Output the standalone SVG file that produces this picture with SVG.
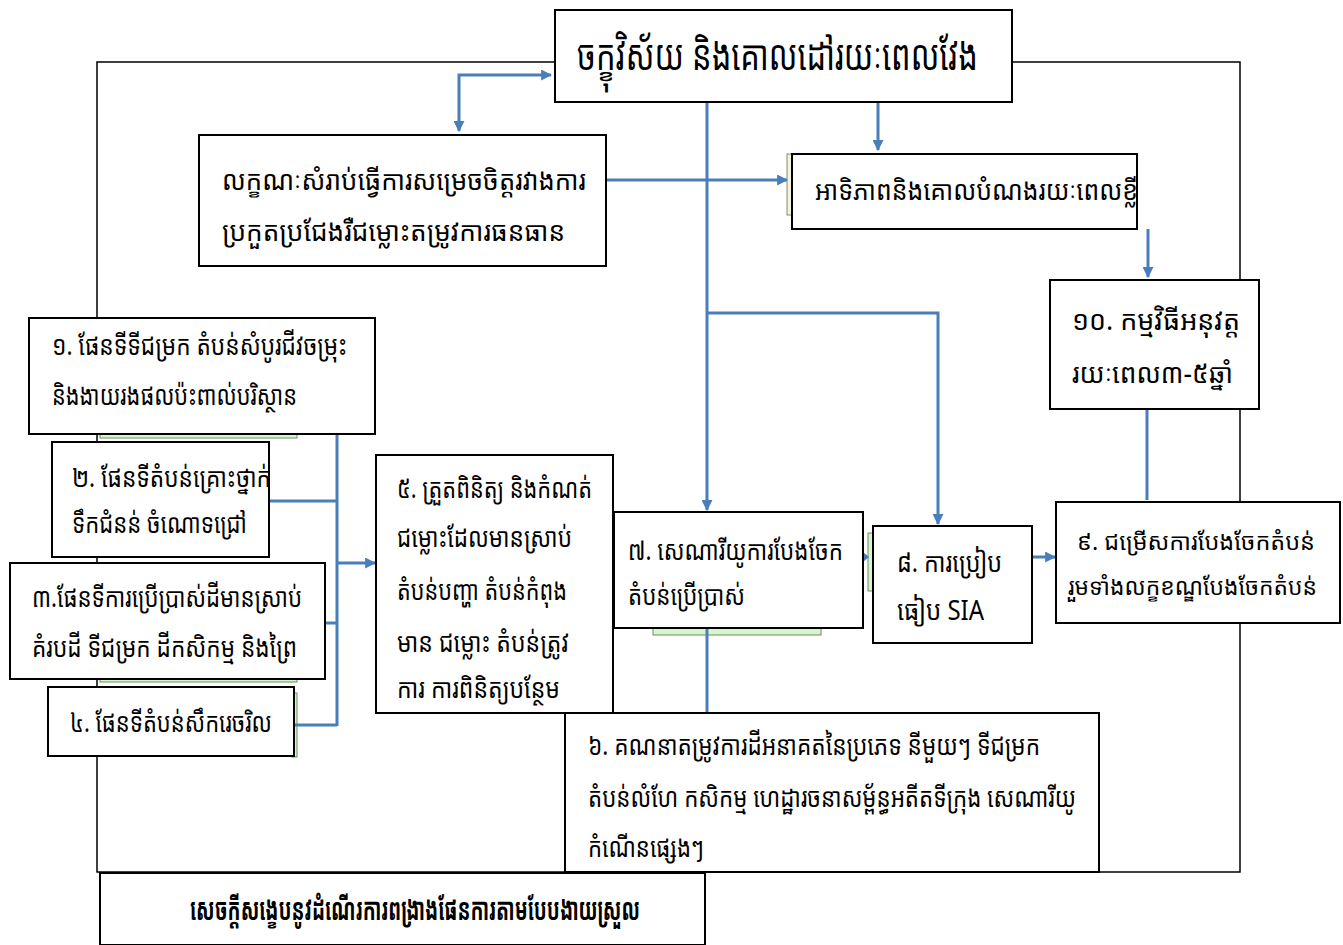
<svg xmlns="http://www.w3.org/2000/svg" width="1343" height="945" viewBox="0 0 1343 945">
<defs>
<style>
.box{fill:#fff;stroke:#000;stroke-width:2}
.deco{fill:#d8f5d0;stroke:#6b8f5e;stroke-width:1}
.frame{fill:none;stroke:#000;stroke-width:1.5}
.t{font-family:"Khmer OS System","Khmer OS","Noto Sans Khmer","Noto Serif Khmer","DejaVu Sans",sans-serif;font-size:27px;fill:#000}
.big{font-size:42px}
.sm{font-size:23px}
.bold{font-weight:bold;font-size:31px}
.c{fill:none;stroke:#4a7ebb;stroke-width:3}
</style>
<marker id="ah" viewBox="0 0 10 10" refX="9" refY="5" markerWidth="11" markerHeight="11" markerUnits="userSpaceOnUse" orient="auto-start-reverse">
<path d="M0,0 L10,5 L0,10 z" fill="#4a7ebb"/>
</marker>
</defs>
<rect width="1343" height="945" fill="#fff"/>
<rect class="frame" x="97" y="62" width="1143" height="810"/>

<g id="decorations">
<rect class="deco" x="100" y="432" width="197" height="6"/>
<rect class="deco" x="100" y="676" width="197" height="6"/>
<rect class="deco" x="292" y="693" width="5" height="64"/>
<rect class="deco" x="653" y="626" width="168" height="9"/>
<rect class="deco" x="868" y="533" width="6" height="58"/>
<rect x="787" y="154" width="6" height="61" fill="#f3f3dc" stroke="#8a8a70" stroke-width="1"/>
</g>

<g id="connectors">
<path class="c" d="M459,131 V75 H551" marker-start="url(#ah)" marker-end="url(#ah)"/>
<path class="c" d="M707,102 V510" marker-end="url(#ah)"/>
<path class="c" d="M707,313 H938 V524" marker-end="url(#ah)"/>
<path class="c" d="M878,102 V150" marker-end="url(#ah)"/>
<path class="c" d="M606,180 H787" marker-end="url(#ah)"/>
<path class="c" d="M1148,229 V277" marker-end="url(#ah)"/>
<path class="c" d="M1147,409 V500"/>
<path class="c" d="M1032,557 H1055" marker-end="url(#ah)"/>
<path d="M863,552 L869,557 L863,562 z" fill="#4a7ebb"/>
<path class="c" d="M707,628 V713"/>
<path class="c" d="M337,434 V726 M269,501 H337 M325,623 H337 M294,725 H337"/>
<path class="c" d="M337,563 H375" marker-end="url(#ah)"/>
</g>

<g id="n-vision">
<rect class="box" x="555" y="10" width="457" height="92"/>
<text class="t big" x="577" y="70" textLength="401" lengthAdjust="spacingAndGlyphs">ចក្ខុវិស័យ និងគោលដៅរយៈពេលវែង</text>
</g>
<g id="n-criteria">
<rect class="box" x="199" y="135" width="407" height="131"/>
<text class="t" x="222" y="190" textLength="364" lengthAdjust="spacingAndGlyphs">លក្ខណៈសំរាប់ធ្វើការសម្រេចចិត្តរវាងការ</text>
<text class="t" x="222" y="241" textLength="343" lengthAdjust="spacingAndGlyphs">ប្រកួតប្រជែងរឺជម្លោះតម្រូវការធនធាន</text>
</g>
<g id="n-priority">
<rect class="box" x="792" y="154" width="345" height="75"/>
<text class="t" x="815" y="200" textLength="323" lengthAdjust="spacingAndGlyphs">អាទិភាពនិងគោលបំណងរយៈពេលខ្លី</text>
</g>
<g id="n10">
<rect class="box" x="1050" y="280" width="209" height="129"/>
<text class="t" x="1072" y="330" textLength="168" lengthAdjust="spacingAndGlyphs">១០. កម្មវិធីអនុវត្ត</text>
<text class="t" x="1072" y="383" textLength="161" lengthAdjust="spacingAndGlyphs">រយៈពេល៣-៥ឆ្នាំ</text>
</g>
<g id="n1">
<rect class="box" x="29" y="318" width="346" height="116"/>
<text class="t" x="52" y="355" textLength="295" lengthAdjust="spacingAndGlyphs">១. ផែនទីទីជម្រក តំបន់សំបូរជីវចម្រុះ</text>
<text class="t" x="52" y="405" textLength="245" lengthAdjust="spacingAndGlyphs">និងងាយរងផលប៉ះពាល់បរិស្ថាន</text>
</g>
<g id="n2">
<rect class="box" x="52" y="442" width="217" height="115"/>
<text class="t" x="72" y="487" textLength="199" lengthAdjust="spacingAndGlyphs">២. ផែនទីតំបន់គ្រោះថ្នាក់</text>
<text class="t" x="72" y="533" textLength="175" lengthAdjust="spacingAndGlyphs">ទឹកជំនន់ ចំណោទជ្រៅ</text>
</g>
<g id="n3">
<rect class="box" x="10" y="563" width="315" height="116"/>
<text class="t" x="32" y="607" textLength="270" lengthAdjust="spacingAndGlyphs">៣.ផែនទីការប្រើប្រាស់ដីមានស្រាប់</text>
<text class="t" x="32" y="657" textLength="265" lengthAdjust="spacingAndGlyphs">គំរបដី ទីជម្រក ដីកសិកម្ម និងព្រៃ</text>
</g>
<g id="n4">
<rect class="box" x="48" y="687" width="246" height="69"/>
<text class="t" x="70" y="732" textLength="202" lengthAdjust="spacingAndGlyphs">៤. ផែនទីតំបន់សឹករេចរិល</text>
</g>
<g id="n5">
<rect class="box" x="376" y="455" width="237" height="258"/>
<text class="t" x="397" y="498" textLength="195" lengthAdjust="spacingAndGlyphs">៥. ត្រួតពិនិត្យ និងកំណត់</text>
<text class="t" x="397" y="547" textLength="175" lengthAdjust="spacingAndGlyphs">ជម្លោះដែលមានស្រាប់</text>
<text class="t" x="397" y="600" textLength="170" lengthAdjust="spacingAndGlyphs">តំបន់បញ្ហា តំបន់កំពុង</text>
<text class="t" x="397" y="652" textLength="172" lengthAdjust="spacingAndGlyphs">មាន ជម្លោះ តំបន់ត្រូវ</text>
<text class="t" x="397" y="698" textLength="163" lengthAdjust="spacingAndGlyphs">ការ ការពិនិត្យបន្ថែម</text>
</g>
<g id="n7">
<rect class="box" x="614" y="512" width="249" height="116"/>
<text class="t" x="628" y="560" textLength="215" lengthAdjust="spacingAndGlyphs">៧. សេណារីយូការបែងចែក</text>
<text class="t" x="628" y="605" textLength="117" lengthAdjust="spacingAndGlyphs">តំបន់ប្រើប្រាស់</text>
</g>
<g id="n8">
<rect class="box" x="873" y="526" width="159" height="117"/>
<text class="t" x="897" y="572" textLength="105" lengthAdjust="spacingAndGlyphs">៨. ការប្រៀប</text>
<text class="t" x="897" y="620" textLength="87" lengthAdjust="spacingAndGlyphs">ធៀប SIA</text>
</g>
<g id="n9">
<rect class="box" x="1056" y="502" width="284" height="121"/>
<text class="t sm" x="1077" y="550" textLength="238" lengthAdjust="spacingAndGlyphs">៩. ជម្រើសការបែងចែកតំបន់</text>
<text class="t sm" x="1068" y="595" textLength="249" lengthAdjust="spacingAndGlyphs">រួមទាំងលក្ខខណ្ឌបែងចែកតំបន់</text>
</g>
<g id="n6">
<rect class="box" x="565" y="713" width="534" height="159"/>
<text class="t" x="588" y="755" textLength="452" lengthAdjust="spacingAndGlyphs">៦. គណនាតម្រូវការដីអនាគតនៃប្រភេទ នីមួយៗ ទីជម្រក</text>
<text class="t" x="588" y="807" textLength="488" lengthAdjust="spacingAndGlyphs">តំបន់លំហែ  កសិកម្ម ហេដ្ឋារចនាសម្ព័ន្ធអតីតទីក្រុង សេណារីយូ</text>
<text class="t" x="588" y="857" textLength="116" lengthAdjust="spacingAndGlyphs">កំណើនផ្សេងៗ</text>
</g>
<g id="n-summary">
<rect class="box" x="100" y="873" width="605" height="72"/>
<text class="t bold" x="190" y="920" textLength="450" lengthAdjust="spacingAndGlyphs">សេចក្ដីសង្ខេបនូវដំណើរការពង្រាងផែនការតាមបែបងាយស្រួល</text>
</g>
</svg>
